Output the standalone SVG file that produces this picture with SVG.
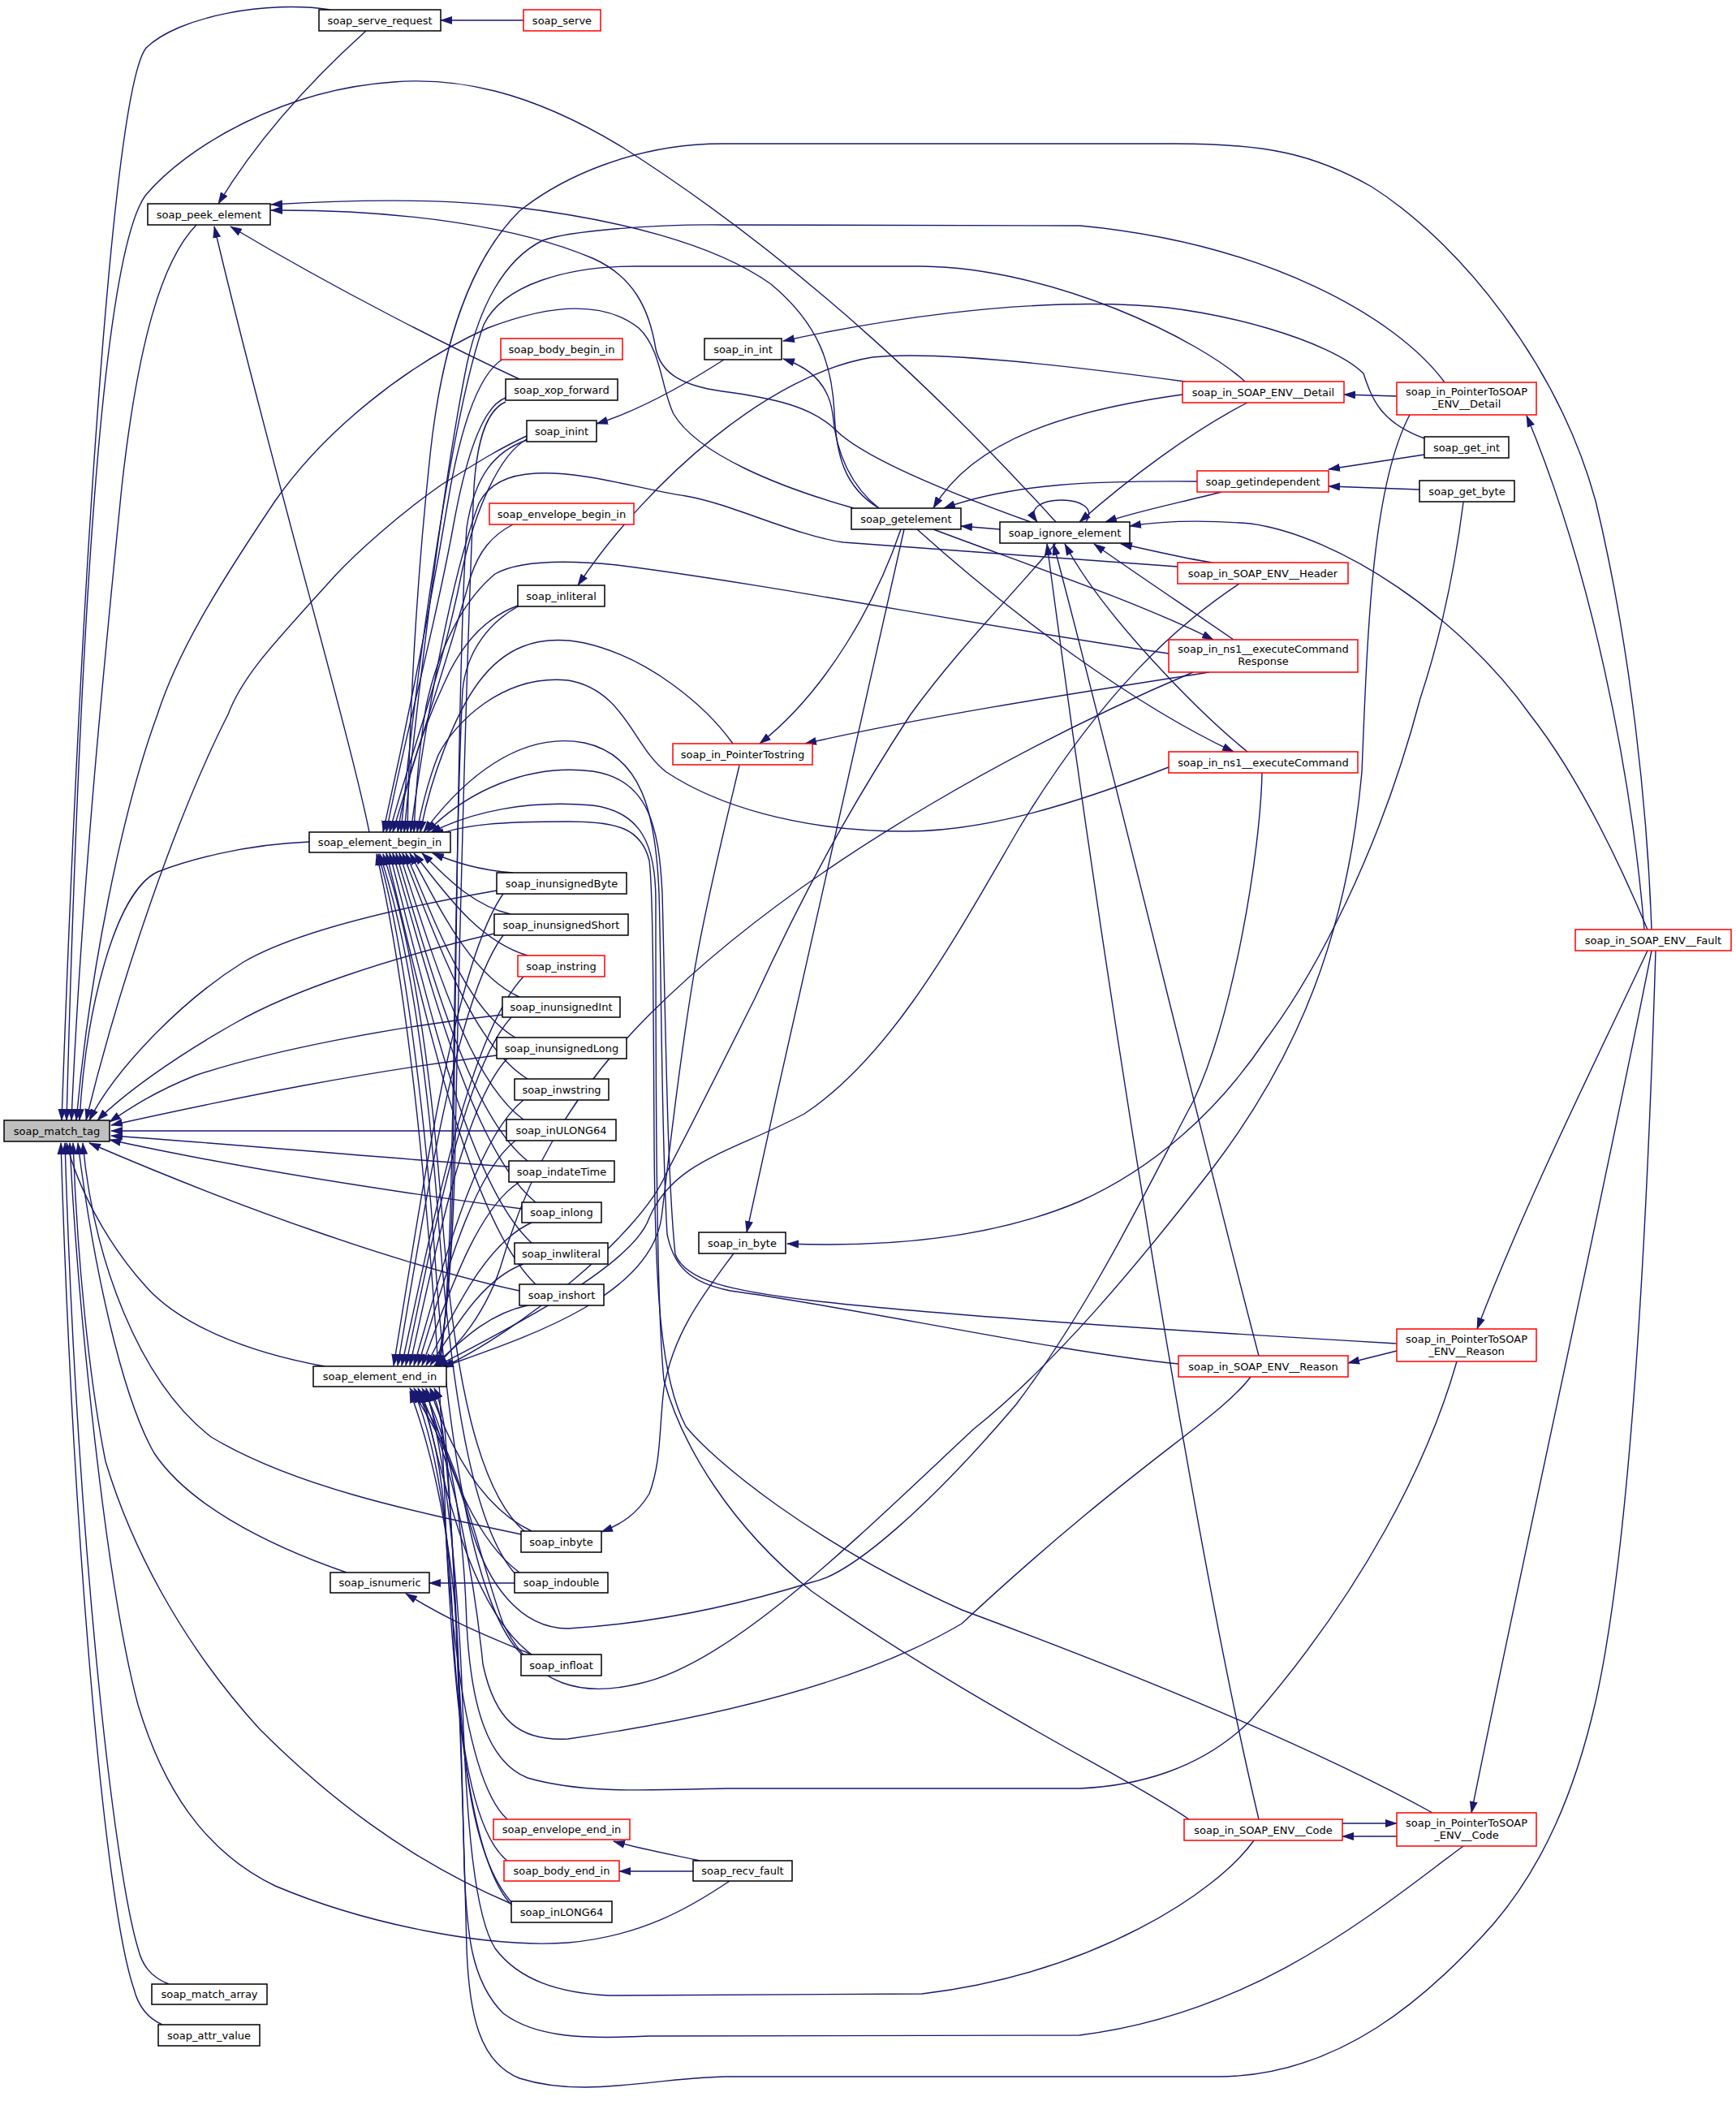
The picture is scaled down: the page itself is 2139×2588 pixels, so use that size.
<svg xmlns="http://www.w3.org/2000/svg" width="2139" height="2588" viewBox="0 0 2139 2588">
<style>
.e{fill:none;stroke:#191970;stroke-width:1.4;marker-end:url(#a)}
.n rect{fill:#fff;stroke:#000;stroke-width:1.5}
.r rect{fill:#fff;stroke:#ff0000;stroke-width:1.5}
.g rect{fill:#bfbfbf;stroke:#000;stroke-width:1.5}
text{font-family:"DejaVu Sans","Liberation Sans",sans-serif;font-size:13px;text-anchor:middle;fill:#000}
</style>
<defs>
<marker id="a" markerWidth="15" markerHeight="10" refX="14" refY="5" orient="auto" markerUnits="userSpaceOnUse"><path d="M0,0 L15,5 L0,10 z" fill="#191970"/></marker>
</defs>
<rect width="2139" height="2588" fill="#fff"/>
<g id="edges">
<path class="e" d="M645,25 L543,25"/>
<path class="e" d="M451,38 C410,75 330,150 269,251"/>
<path class="e" d="M407,12 C330,0 220,20 180,59 C140,110 100,700 76,1380"/>
<path class="e" d="M1301,643 C1180,510 1000,330 768,182 C650,110 560,95 485,101 C350,110 230,180 179,241 C130,310 100,700 82,1380"/>
<path class="e" d="M242,277 C200,320 170,420 150,600 C130,800 100,1100 88,1380"/>
<path class="e" d="M1052,626 C960,600 860,560 830,510 C815,480 815,430 787,404 C750,375 690,370 601,404 C500,450 400,530 339,617 C270,720 220,800 194,880 C150,1000 110,1200 94,1380"/>
<path class="e" d="M649,537 C610,555 580,575 544,597 C490,635 440,680 412,710 C340,790 300,830 281,880 C220,1000 150,1200 106,1380"/>
<path class="e" d="M381,1037 C300,1040 230,1060 194,1074 C140,1100 105,1250 98,1380"/>
<path class="e" d="M612,1097 C480,1120 360,1150 300,1185 C220,1235 140,1320 110,1380"/>
<path class="e" d="M609,1150 C480,1180 360,1220 290,1260 C210,1305 150,1350 120,1380"/>
<path class="e" d="M619,1250 C480,1265 330,1295 240,1325 C190,1345 160,1365 135,1382"/>
<path class="e" d="M612,1300 C450,1320 300,1350 137,1386"/>
<path class="e" d="M624,1393 L137,1393"/>
<path class="e" d="M627,1437 C450,1425 300,1410 137,1399"/>
<path class="e" d="M643,1489 C500,1470 300,1440 135,1404"/>
<path class="e" d="M640,1590 C500,1560 300,1490 110,1408"/>
<path class="e" d="M400,1683 C300,1665 220,1630 180,1585 C130,1530 95,1460 82,1408"/>
<path class="e" d="M642,1890 C500,1860 360,1830 260,1770 C170,1700 115,1550 102,1408"/>
<path class="e" d="M427,1937 C320,1900 230,1850 190,1790 C150,1720 115,1560 96,1408"/>
<path class="e" d="M630,2345 C500,2290 400,2210 320,2130 C220,2020 160,1900 130,1800 C110,1700 95,1550 90,1408"/>
<path class="e" d="M899,2317 C850,2350 790,2385 700,2393 C600,2400 450,2370 339,2323 C250,2280 200,2200 170,2100 C130,1950 95,1600 86,1408"/>
<path class="e" d="M208,2444 C185,2435 175,2420 170,2400 C140,2300 95,1900 80,1408"/>
<path class="e" d="M200,2494 C180,2485 170,2470 165,2450 C130,2350 90,1900 75,1408"/>
<path class="e" d="M455,1025 C430,900 330,560 264,279"/>
<path class="e" d="M640,467 C560,430 420,360 284,279"/>
<path class="e" d="M1083,626 C1040,600 1030,560 1028,507 C1025,450 1010,400 950,350 C880,300 760,270 633,255 C550,245 450,245 334,252"/>
<path class="e" d="M1270,643 C1150,600 1060,560 1030,530 C1000,500 950,490 890,482 C840,475 815,460 808,430 C800,380 780,340 730,318 C640,280 500,258 334,259"/>
<path class="e" d="M1338,643 C1350,625 1330,616 1308,616 C1285,616 1265,625 1278,643"/>
<path class="e" d="M1232,652 L1184,648"/>
<path class="e" d="M1083,626 C1050,600 1030,560 1026,510 C1022,480 1005,455 965,442"/>
<path class="e" d="M892,443 C850,470 790,505 735,522"/>
<path class="e" d="M1755,540 C1700,520 1690,490 1680,460 C1640,420 1500,380 1400,376 C1250,368 1080,395 965,420"/>
<path class="e" d="M1755,560 L1637,578"/>
<path class="e" d="M1749,603 L1637,599"/>
<path class="e" d="M1803,619 C1790,720 1770,800 1750,860 C1700,1050 1620,1200 1560,1280 C1500,1370 1420,1440 1330,1480 C1200,1535 1050,1535 970,1532"/>
<path class="e" d="M1114,652 C1100,720 1000,1150 920,1518"/>
<path class="e" d="M904,1544 C870,1590 830,1640 818,1710 C812,1760 815,1800 800,1840 C785,1865 765,1878 741,1887"/>
<path class="e" d="M1110,652 C1080,740 1020,850 936,916"/>
<path class="e" d="M1130,652 C1250,760 1400,870 1520,926"/>
<path class="e" d="M1150,652 C1250,690 1400,740 1495,788"/>
<path class="e" d="M1490,828 C1350,850 1150,880 992,916"/>
<path class="e" d="M1457,486 C1320,505 1200,540 1150,626"/>
<path class="e" d="M1475,593 C1350,592 1250,595 1163,626"/>
<path class="e" d="M1537,496 C1470,530 1390,590 1330,643"/>
<path class="e" d="M1505,606 C1450,620 1400,630 1362,643"/>
<path class="e" d="M2030,1145 C1990,1050 1940,950 1885,880 C1800,760 1650,660 1541,645 C1480,640 1430,642 1392,648"/>
<path class="e" d="M1494,693 C1460,688 1420,678 1381,670"/>
<path class="e" d="M1520,788 C1450,740 1390,700 1348,670"/>
<path class="e" d="M1537,926 C1480,880 1360,760 1312,670"/>
<path class="e" d="M1551,1670 C1480,1400 1360,900 1298,670"/>
<path class="e" d="M1551,2241 C1470,1900 1360,1200 1290,670"/>
<path class="e" d="M2026,1145 C2010,950 1960,700 1881,512"/>
<path class="e" d="M1721,488 L1656,486"/>
<path class="e" d="M2030,1171 C1960,1320 1880,1480 1820,1637"/>
<path class="e" d="M1721,1664 L1661,1679"/>
<path class="e" d="M2035,1171 C1970,1500 1880,1900 1813,2233"/>
<path class="e" d="M1654,2246 L1721,2246"/>
<path class="e" d="M1721,2262 L1654,2262"/>
<path class="e" d="M1460,470 C1300,448 1150,432 1075,440 C950,460 800,590 712,721"/>
<path class="e" d="M620,442 C590,460 570,520 555,600 C530,750 500,900 472,1025"/>
<path class="e" d="M623,490 C595,500 575,560 560,640 C535,780 500,900 476,1025"/>
<path class="e" d="M649,541 C615,560 585,630 570,700 C545,830 505,930 480,1025"/>
<path class="e" d="M632,646 C605,660 590,680 580,710 C555,800 515,920 484,1025"/>
<path class="e" d="M638,746 C600,760 570,790 548,840 C520,900 500,960 490,1025"/>
<path class="e" d="M1534,470 C1480,420 1300,330 1136,328 L782,328 C700,328 620,350 596,400 C560,500 515,800 494,1025"/>
<path class="e" d="M1780,471 C1720,390 1560,300 1331,278 L890,277 C800,276 700,285 669,296 C620,320 590,380 575,450 C545,600 515,850 498,1025"/>
<path class="e" d="M2035,1145 C2030,1000 2010,800 1966,617 C1920,450 1800,300 1690,230 C1620,190 1560,177 1450,177 L890,177 C780,177 690,220 640,260 C580,320 545,420 530,560 C515,700 505,850 502,1025"/>
<path class="e" d="M1451,698 C1300,688 1160,676 1039,668 C980,660 900,620 845,611 C790,603 720,580 660,583 C620,585 600,600 590,620 C560,700 530,850 506,1025"/>
<path class="e" d="M1440,805 C1200,770 950,720 760,696 C700,690 640,690 610,707 C570,740 540,800 525,870 C515,930 512,980 510,1025"/>
<path class="e" d="M1440,945 C1300,1000 1200,1024 1117,1024 C980,1024 880,990 821,951 C780,920 770,850 700,838 C620,830 560,890 540,930 C528,960 518,1000 514,1025"/>
<path class="e" d="M903,916 C870,870 800,810 720,792 C660,780 620,800 590,840 C560,880 530,960 518,1025"/>
<path class="e" d="M1452,1680 C1300,1665 1050,1610 900,1590 C850,1580 830,1560 822,1520 C815,1400 815,1200 812,1100 C808,1000 790,930 720,915 C640,900 570,960 522,1025"/>
<path class="e" d="M1721,1655 C1600,1648 1200,1625 1000,1602 C900,1590 845,1578 832,1545 C822,1450 820,1250 816,1100 C812,1020 800,960 730,950 C650,940 575,975 526,1025"/>
<path class="e" d="M1465,2241 C1400,2195 1200,2100 1000,1960 C900,1880 840,1780 818,1700 C808,1600 808,1300 808,1110 C808,1040 790,1000 730,992 C650,985 580,1000 530,1026"/>
<path class="e" d="M1765,2233 C1650,2170 1460,2085 1185,1983 C1000,1900 880,1800 845,1757 C815,1700 807,1600 806,1400 C805,1250 805,1100 800,1060 C790,1020 760,1012 700,1012 C620,1012 570,1015 534,1030"/>
<path class="e" d="M632,1075 C590,1072 560,1062 533,1051"/>
<path class="e" d="M629,1126 C580,1115 547,1077 520,1051"/>
<path class="e" d="M650,1177 C587,1158 545,1095 510,1051"/>
<path class="e" d="M640,1228 C579,1201 539,1113 505,1051"/>
<path class="e" d="M635,1278 C574,1244 534,1130 500,1051"/>
<path class="e" d="M650,1329 C581,1287 535,1148 496,1051"/>
<path class="e" d="M645,1379 C576,1330 530,1166 492,1051"/>
<path class="e" d="M650,1430 C577,1373 528,1184 488,1051"/>
<path class="e" d="M660,1481 C581,1417 528,1202 484,1051"/>
<path class="e" d="M655,1531 C576,1459 524,1219 480,1051"/>
<path class="e" d="M660,1582 C577,1502 522,1237 476,1051"/>
<path class="e" d="M650,1608 C598,1619 564,1656 535,1682"/>
<path class="e" d="M645,1557 C593,1576 559,1638 530,1682"/>
<path class="e" d="M655,1506 C597,1532 558,1620 525,1682"/>
<path class="e" d="M640,1456 C586,1490 550,1603 520,1682"/>
<path class="e" d="M635,1405 C581,1447 545,1585 515,1682"/>
<path class="e" d="M645,1355 C584,1404 544,1568 510,1682"/>
<path class="e" d="M625,1304 C571,1361 535,1550 505,1682"/>
<path class="e" d="M630,1253 C571,1317 532,1532 500,1682"/>
<path class="e" d="M645,1203 C577,1275 532,1514 495,1682"/>
<path class="e" d="M620,1152 C561,1231 522,1497 490,1682"/>
<path class="e" d="M620,1101 C559,1188 519,1479 485,1682"/>
<path class="e" d="M623,495 C600,505 588,540 584,600 C575,800 565,1200 560,1450 C556,1580 548,1640 538,1683"/>
<path class="e" d="M649,542 C610,556 585,585 575,650 C565,800 562,1200 558,1450 C555,1580 548,1640 540,1683"/>
<path class="e" d="M640,746 C605,765 575,800 570,850 C562,1000 560,1300 556,1450 C553,1580 548,1640 542,1683"/>
<path class="e" d="M2040,1171 C2030,1500 2010,1900 1966,2096 C1940,2210 1900,2300 1840,2370 C1760,2460 1650,2558 1500,2558 L894,2558 C800,2560 720,2585 640,2560 C590,2540 578,2480 575,2400 C570,2200 560,1900 548,1760 C543,1730 540,1720 535,1710"/>
<path class="e" d="M1803,2274 C1700,2350 1550,2480 1330,2507 L800,2508 C720,2512 660,2510 620,2480 C580,2440 575,2380 572,2300 C568,2100 558,1850 545,1760 C540,1730 535,1720 530,1710"/>
<path class="e" d="M1545,2267 C1500,2330 1350,2430 1136,2456 L750,2458 C690,2455 640,2440 610,2400 C585,2360 575,2250 570,2100 C565,1950 550,1800 525,1710"/>
<path class="e" d="M1795,1677 C1760,1800 1680,1960 1541,2119 C1480,2180 1400,2200 1330,2203 L894,2203 C800,2205 720,2210 650,2190 C600,2170 580,2100 575,2000 C570,1850 550,1760 520,1710"/>
<path class="e" d="M1541,1696 C1500,1750 1400,1800 1185,2000 C1050,2080 850,2120 700,2142 C640,2145 610,2120 595,2050 C585,1950 560,1800 515,1710"/>
<path class="e" d="M1737,511 C1690,600 1685,780 1678,951 C1660,1150 1600,1300 1494,1439 C1400,1560 1300,1680 1200,1760 C1050,1900 900,2050 787,2074 C720,2090 660,2080 620,2000 C590,1920 570,1800 510,1710"/>
<path class="e" d="M1555,952 C1553,1050 1520,1250 1471,1355 C1420,1450 1350,1600 1252,1730 C1150,1850 1050,1940 1000,1949 C900,1980 800,2000 700,2006 C640,2006 600,1950 580,1880 C565,1820 540,1760 505,1710"/>
<path class="e" d="M1527,719 C1450,770 1360,850 1257,1018 C1180,1150 1100,1300 991,1372 C900,1420 830,1430 800,1500 C780,1560 620,1640 538,1683"/>
<path class="e" d="M1470,828 C1300,900 1000,1050 800,1250 C700,1350 650,1450 620,1550 C600,1620 560,1660 537,1683"/>
<path class="e" d="M911,943 C895,1010 868,1120 855,1200 C835,1320 825,1420 815,1500 C800,1600 640,1650 545,1684"/>
<path class="e" d="M1301,669 C1250,730 1180,800 1122,880 C1050,990 991,1097 930,1230 C880,1330 845,1400 821,1445 C790,1520 640,1640 544,1685"/>
<path class="e" d="M655,1886 C600,1860 560,1800 530,1712"/>
<path class="e" d="M640,1937 C590,1900 555,1820 525,1713"/>
<path class="e" d="M655,2038 C590,1990 555,1870 520,1714"/>
<path class="e" d="M625,2241 C580,2200 560,2050 550,1900 C545,1800 530,1750 515,1714"/>
<path class="e" d="M625,2292 C585,2260 565,2150 558,2000 C552,1850 530,1760 510,1714"/>
<path class="e" d="M632,2345 C590,2300 570,2200 565,2050 C560,1900 530,1780 505,1714"/>
<path class="e" d="M648,1888 C590,1840 560,1700 545,1500 C530,1300 505,1150 472,1052"/>
<path class="e" d="M636,1940 C580,1880 555,1700 540,1500 C525,1300 500,1150 468,1052"/>
<path class="e" d="M645,2040 C580,1980 550,1750 536,1550 C522,1350 495,1150 466,1052"/>
<path class="e" d="M632,2348 C580,2300 560,2100 550,1900 C540,1600 510,1250 464,1052"/>
<path class="e" d="M634,1950 L529,1950"/>
<path class="e" d="M655,2038 C600,2015 560,2000 500,1963"/>
<path class="e" d="M862,2292 C830,2285 780,2275 756,2268"/>
<path class="e" d="M854,2305 L763,2305"/>
</g>
<g id="soap_match_tag" class="g"><rect x="5" y="1380" width="130" height="26"/><text x="70" y="1397.5">soap_match_tag</text></g>
<g id="soap_serve_request" class="n"><rect x="393" y="12" width="150" height="26"/><text x="468" y="29.5">soap_serve_request</text></g>
<g id="soap_serve" class="r"><rect x="645" y="12" width="95" height="26"/><text x="692.5" y="29.5">soap_serve</text></g>
<g id="soap_peek_element" class="n"><rect x="182" y="251" width="151" height="26"/><text x="257.5" y="268.5">soap_peek_element</text></g>
<g id="soap_body_begin_in" class="r"><rect x="617" y="417" width="150" height="26"/><text x="692" y="434.5">soap_body_begin_in</text></g>
<g id="soap_xop_forward" class="n"><rect x="623" y="467" width="138" height="26"/><text x="692" y="484.5">soap_xop_forward</text></g>
<g id="soap_inint" class="n"><rect x="649" y="518" width="86" height="26"/><text x="692" y="535.5">soap_inint</text></g>
<g id="soap_in_int" class="n"><rect x="868" y="417" width="95" height="26"/><text x="915.5" y="434.5">soap_in_int</text></g>
<g id="soap_envelope_begin_in" class="r"><rect x="603" y="620" width="178" height="26"/><text x="692" y="637.5">soap_envelope_begin_in</text></g>
<g id="soap_inliteral" class="n"><rect x="638" y="721" width="107" height="26"/><text x="691.5" y="738.5">soap_inliteral</text></g>
<g id="soap_getelement" class="n"><rect x="1049" y="626" width="135" height="26"/><text x="1116.5" y="643.5">soap_getelement</text></g>
<g id="soap_ignore_element" class="n"><rect x="1232" y="643" width="160" height="26"/><text x="1312" y="660.5">soap_ignore_element</text></g>
<g id="soap_in_SOAP_ENV__Detail" class="r"><rect x="1457" y="470" width="199" height="26"/><text x="1556.5" y="487.5">soap_in_SOAP_ENV__Detail</text></g>
<g id="soap_in_PointerToSOAP_ENV__Detail" class="r"><rect x="1721" y="471" width="172" height="40"/><text x="1807" y="487">soap_in_PointerToSOAP</text><text x="1807" y="502">_ENV__Detail</text></g>
<g id="soap_get_int" class="n"><rect x="1755" y="538" width="104" height="26"/><text x="1807" y="555.5">soap_get_int</text></g>
<g id="soap_getindependent" class="r"><rect x="1475" y="580" width="162" height="26"/><text x="1556" y="597.5">soap_getindependent</text></g>
<g id="soap_get_byte" class="n"><rect x="1749" y="592" width="117" height="26"/><text x="1807.5" y="609.5">soap_get_byte</text></g>
<g id="soap_in_SOAP_ENV__Header" class="r"><rect x="1451" y="693" width="210" height="26"/><text x="1556" y="710.5">soap_in_SOAP_ENV__Header</text></g>
<g id="soap_in_ns1__executeCommandResponse" class="r"><rect x="1440" y="788" width="233" height="40"/><text x="1556.5" y="804">soap_in_ns1__executeCommand</text><text x="1556.5" y="818.5">Response</text></g>
<g id="soap_in_ns1__executeCommand" class="r"><rect x="1440" y="926" width="233" height="26"/><text x="1556.5" y="943.5">soap_in_ns1__executeCommand</text></g>
<g id="soap_in_PointerTostring" class="r"><rect x="829" y="916" width="172" height="26"/><text x="915" y="933.5">soap_in_PointerTostring</text></g>
<g id="soap_element_begin_in" class="n"><rect x="381" y="1025" width="174" height="25"/><text x="468" y="1042">soap_element_begin_in</text></g>
<g id="soap_inunsignedByte" class="n"><rect x="612" y="1075" width="160" height="26"/><text x="692" y="1092.5">soap_inunsignedByte</text></g>
<g id="soap_inunsignedShort" class="n"><rect x="609" y="1126" width="165" height="26"/><text x="691.5" y="1143.5">soap_inunsignedShort</text></g>
<g id="soap_instring" class="r"><rect x="638" y="1177" width="107" height="26"/><text x="691.5" y="1194.5">soap_instring</text></g>
<g id="soap_inunsignedInt" class="n"><rect x="619" y="1228" width="145" height="25"/><text x="691.5" y="1245">soap_inunsignedInt</text></g>
<g id="soap_inunsignedLong" class="n"><rect x="612" y="1278" width="160" height="26"/><text x="692" y="1295.5">soap_inunsignedLong</text></g>
<g id="soap_inwstring" class="n"><rect x="634" y="1329" width="116" height="26"/><text x="692" y="1346.5">soap_inwstring</text></g>
<g id="soap_inULONG64" class="n"><rect x="624" y="1379" width="135" height="26"/><text x="691.5" y="1396.5">soap_inULONG64</text></g>
<g id="soap_indateTime" class="n"><rect x="627" y="1430" width="130" height="26"/><text x="692" y="1447.5">soap_indateTime</text></g>
<g id="soap_inlong" class="n"><rect x="643" y="1481" width="98" height="25"/><text x="692" y="1498">soap_inlong</text></g>
<g id="soap_inwliteral" class="n"><rect x="634" y="1531" width="115" height="26"/><text x="691.5" y="1548.5">soap_inwliteral</text></g>
<g id="soap_inshort" class="n"><rect x="640" y="1582" width="104" height="26"/><text x="692" y="1599.5">soap_inshort</text></g>
<g id="soap_in_byte" class="n"><rect x="861" y="1518" width="107" height="26"/><text x="914.5" y="1535.5">soap_in_byte</text></g>
<g id="soap_element_end_in" class="n"><rect x="386" y="1683" width="164" height="25"/><text x="468" y="1700">soap_element_end_in</text></g>
<g id="soap_in_SOAP_ENV__Reason" class="r"><rect x="1452" y="1670" width="209" height="26"/><text x="1556.5" y="1687.5">soap_in_SOAP_ENV__Reason</text></g>
<g id="soap_in_PointerToSOAP_ENV__Reason" class="r"><rect x="1721" y="1637" width="172" height="40"/><text x="1807" y="1654">soap_in_PointerToSOAP</text><text x="1807" y="1668.5">_ENV__Reason</text></g>
<g id="soap_in_SOAP_ENV__Fault" class="r"><rect x="1941" y="1145" width="192" height="26"/><text x="2037" y="1162.5">soap_in_SOAP_ENV__Fault</text></g>
<g id="soap_inbyte" class="n"><rect x="642" y="1886" width="99" height="26"/><text x="691.5" y="1903.5">soap_inbyte</text></g>
<g id="soap_isnumeric" class="n"><rect x="407" y="1937" width="122" height="25"/><text x="468" y="1954">soap_isnumeric</text></g>
<g id="soap_indouble" class="n"><rect x="634" y="1937" width="115" height="25"/><text x="691.5" y="1954">soap_indouble</text></g>
<g id="soap_infloat" class="n"><rect x="642" y="2038" width="99" height="26"/><text x="691.5" y="2055.5">soap_infloat</text></g>
<g id="soap_envelope_end_in" class="r"><rect x="608" y="2241" width="168" height="25"/><text x="692" y="2258">soap_envelope_end_in</text></g>
<g id="soap_body_end_in" class="r"><rect x="621" y="2292" width="142" height="25"/><text x="692" y="2309">soap_body_end_in</text></g>
<g id="soap_recv_fault" class="n"><rect x="854" y="2292" width="122" height="25"/><text x="915" y="2309">soap_recv_fault</text></g>
<g id="soap_inLONG64" class="n"><rect x="630" y="2342" width="124" height="26"/><text x="692" y="2359.5">soap_inLONG64</text></g>
<g id="soap_in_SOAP_ENV__Code" class="r"><rect x="1459" y="2241" width="195" height="26"/><text x="1556.5" y="2258.5">soap_in_SOAP_ENV__Code</text></g>
<g id="soap_in_PointerToSOAP_ENV__Code" class="r"><rect x="1721" y="2233" width="172" height="41"/><text x="1807" y="2249.5">soap_in_PointerToSOAP</text><text x="1807" y="2264.5">_ENV__Code</text></g>
<g id="soap_match_array" class="n"><rect x="187" y="2444" width="142" height="25"/><text x="258" y="2461">soap_match_array</text></g>
<g id="soap_attr_value" class="n"><rect x="195" y="2494" width="125" height="26"/><text x="257.5" y="2511.5">soap_attr_value</text></g>
</svg>
